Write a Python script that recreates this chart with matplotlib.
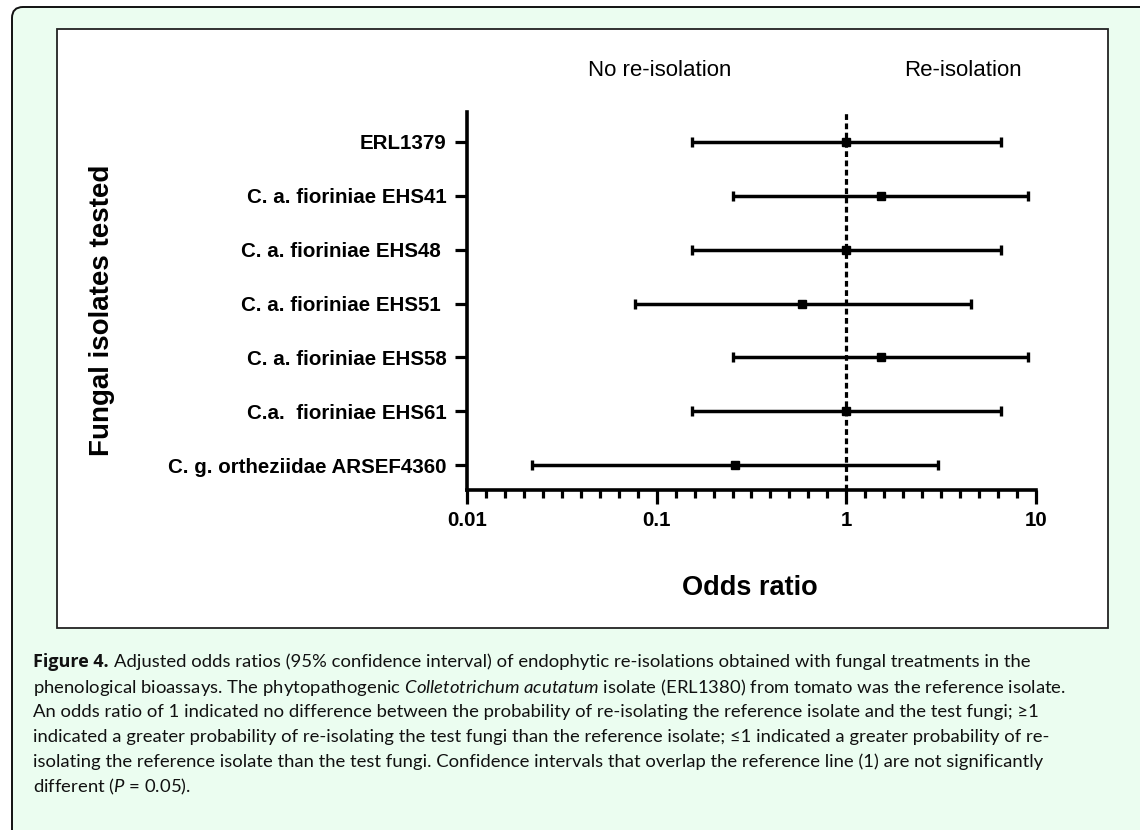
import matplotlib
matplotlib.use("Agg")
import numpy as np
import matplotlib.pyplot as plt
from matplotlib.patches import FancyBboxPatch, Rectangle
from matplotlib.ticker import FixedLocator, NullFormatter, NullLocator

# data
isolates = [
    "ERL1379",
    "C. a. fioriniae EHS41",
    "C. a. fioriniae EHS48 ",
    "C. a. fioriniae EHS51 ",
    "C. a. fioriniae EHS58",
    "C.a.  fioriniae EHS61",
    "C. g. ortheziidae ARSEF4360",
]
odds = [1.0, 1.52, 1.0, 0.585, 1.52, 1.0, 0.26]
ci_low = [0.153, 0.253, 0.153, 0.077, 0.253, 0.153, 0.022]
ci_high = [6.55, 9.05, 6.55, 4.56, 9.05, 6.55, 3.06]
xticks = [0.01, 0.1, 1, 10]
xtick_labels = ["0.01", "0.1", "1", "10"]

caption_title = "Figure 4."
caption = [
    "Adjusted odds ratios (95% confidence interval) of endophytic re-isolations obtained with fungal treatments in the",
    r"phenological bioassays. The phytopathogenic $\mathit{Colletotrichum\ acutatum}$ isolate (ERL1380) from tomato was the reference isolate.",
    "An odds ratio of 1 indicated no difference between the probability of re-isolating the reference isolate and the test fungi; \u22651",
    "indicated a greater probability of re-isolating the test fungi than the reference isolate; \u22641 indicated a greater probability of re-",
    "isolating the reference isolate than the test fungi. Confidence intervals that overlap the reference line (1) are not significantly",
    r"different ($\mathit{P}$ = 0.05).",
]

plt.rcParams["font.family"] = ["Liberation Sans", "DejaVu Sans"]
plt.rcParams["mathtext.fontset"] = "custom"
plt.rcParams["mathtext.rm"] = "Lato"
plt.rcParams["mathtext.it"] = "Lato:italic"

W, H = 1140, 830
fig = plt.figure(figsize=(W / 100, H / 100), dpi=100)

# background layer in pixel coordinates
bg = fig.add_axes([0, 0, 1, 1])
bg.set_xlim(0, W)
bg.set_ylim(H, 0)
bg.axis("off")
bg.add_patch(FancyBboxPatch((12, 7), 1300, 1000,
                            boxstyle="round,pad=0,rounding_size=11",
                            fc="#ebfdf0", ec="#111111", lw=1.4))
bg.add_patch(Rectangle((57, 29), 1051, 599, fc="white", ec="#222222", lw=1.3))

# forest plot
ax = fig.add_axes([467 / W, 1 - 490 / H, (1036 - 467) / W, (490 - 112) / H])
ax.patch.set_visible(False)
ax.set_xscale("log")
ax.set_xlim(0.01, 10)
ypos = np.arange(len(isolates))
ax.set_ylim(6.464, -0.557)

ax.axvline(1, color="black", lw=2.3, ls=(0, (1.8, 1.1)), zorder=1)
xerr = [np.subtract(odds, ci_low), np.subtract(ci_high, odds)]
ax.errorbar(odds, ypos, xerr=xerr, fmt="s", color="black", ms=6,
            elinewidth=2.5, capsize=3.6, capthick=2.4, zorder=3)

for side in ("top", "right"):
    ax.spines[side].set_visible(False)
for side in ("left", "bottom"):
    ax.spines[side].set_linewidth(2.6)

ax.set_xticks(xticks)
ax.set_xticklabels(xtick_labels, fontweight="bold", fontsize=14.8)
minor = [10 ** (k + j / 10) for k in (-2, -1, 0) for j in range(1, 10)]
ax.xaxis.set_minor_locator(FixedLocator(minor))
ax.xaxis.set_minor_formatter(NullFormatter())
ax.tick_params(axis="x", which="major", direction="out", length=10, width=2.3, pad=5)
ax.tick_params(axis="x", which="minor", direction="out", length=6, width=2.3)

ax.set_yticks(ypos)
ax.set_yticklabels(isolates, fontweight="bold", fontsize=14.8)
ax.yaxis.set_minor_locator(NullLocator())
ax.tick_params(axis="y", direction="out", length=8.5, width=2.3, pad=6)

# annotations and axis titles
bg.text(660, 70, "No re-isolation", ha="center", va="center", fontsize=16)
bg.text(963, 70, "Re-isolation", ha="center", va="center", fontsize=16)
bg.text(102, 310, "Fungal isolates tested", rotation=90, ha="center", va="center",
        fontsize=20, fontweight="bold")
bg.text(750, 588, "Odds ratio", ha="center", va="center", fontsize=19.5, fontweight="bold")

# caption
cap_font = dict(fontsize=13.3, family=["Lato", "DejaVu Sans"], color="#111111")
title = bg.text(33, 662, caption_title, ha="left", va="center", fontsize=13,
                family=["Open Sans", "DejaVu Sans"], fontweight="bold", color="#111111")
renderer = fig.canvas.get_renderer()
title_w = title.get_window_extent(renderer).width
for i, line in enumerate(caption):
    x0 = 33 + title_w + 5 if i == 0 else 33
    bg.text(x0, 662 + 25 * i, line, ha="left", va="center", **cap_font)

fig.savefig("out.png", dpi=100)
